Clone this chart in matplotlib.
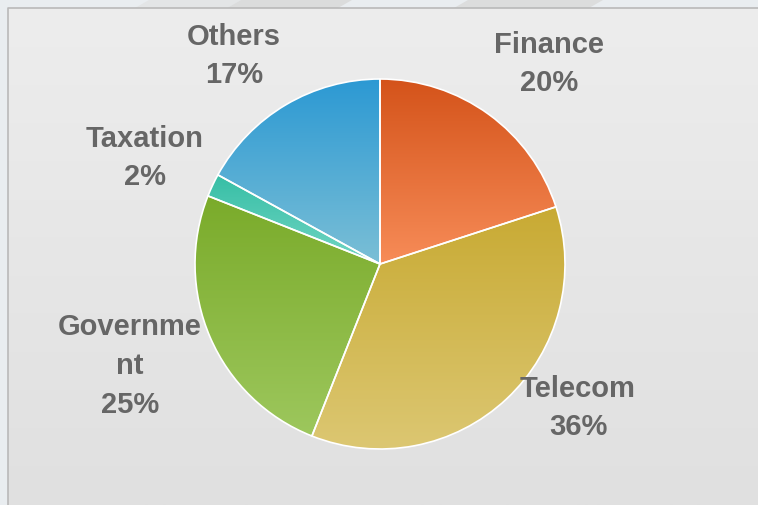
# pie chart of share by sector, gradient slices on a grey panel
import numpy as np
import matplotlib
matplotlib.use('Agg')
from matplotlib import pyplot as plt
from matplotlib.colors import LinearSegmentedColormap
from matplotlib.patches import Polygon

# data
sectors = ['Finance', 'Telecom', 'Government', 'Taxation', 'Others']
shares = [20, 36, 25, 2, 17]
label_text = ['Finance\n20%', 'Telecom\n36%', 'Governme\nnt\n25%', 'Taxation\n2%', 'Others\n17%']
top_colors = ['#d4531a', '#c8aa33', '#7aab2a', '#36bea5', '#2c99d3']
bottom_colors = ['#f78c58', '#dcc772', '#9dc75d', '#72d6c4', '#7bbfd6']

W, H = 758, 505
plt.rcParams['font.family'] = ['Liberation Sans', 'DejaVu Sans']

fig = plt.figure(figsize=(W / 100, H / 100), dpi=100)
fig.patch.set_facecolor('#e9edf0')
ax = fig.add_axes([0, 0, 1, 1])

# background streaks along the top edge
for x0, w, col in [(135, 92, '#e3e5e6'), (227, 111, '#dbdcdc'), (454, 135, '#dcdddd')]:
    ax.add_patch(Polygon([(x0, H - 8), (x0 + w, H - 8), (x0 + w + 14, H), (x0 + 14, H)],
                         closed=True, facecolor=col, edgecolor='none', zorder=-3))

# grey panel with vertical gradient
panel_cmap = LinearSegmentedColormap.from_list('panel', ['#ededed', '#e0e0e0'])
ax.imshow(np.linspace(0, 1, 256).reshape(-1, 1), cmap=panel_cmap, aspect='auto',
          extent=(7.5, W, 0, H - 8), origin='upper', zorder=-2)
ax.plot([7.5, 7.5, W], [0, H - 8, H - 8], color='#b9b9b9', lw=1.2, zorder=-1)

# pie
cx, cy, r = 380, H - 264, 185
wedges, _ = ax.pie(shares, startangle=90, counterclock=False, radius=r, center=(cx, cy),
                   wedgeprops=dict(facecolor='none', edgecolor='white', linewidth=1.2))
for w, c0, c1 in zip(wedges, top_colors, bottom_colors):
    w.set_zorder(2)
    ext = w.get_path().get_extents()
    cmap = LinearSegmentedColormap.from_list('g', [c0, c1])
    im = ax.imshow(np.linspace(0, 1, 256).reshape(-1, 1), cmap=cmap, aspect='auto',
                   extent=(ext.x0, ext.x1, ext.y0, ext.y1), origin='upper', zorder=1)
    im.set_clip_path(w)

# labels
label_pos = [(549, 64), (578, 408), (130, 366), (145, 158), (234, 56)]
for txt, (lx, ly) in zip(label_text, label_pos):
    ax.text(lx, H - ly, txt, ha='center', va='center', multialignment='center',
            fontsize=21, fontweight='bold', color='#666666', linespacing=1.48, zorder=3)

ax.set_xlim(0, W)
ax.set_ylim(0, H)
ax.axis('off')

plt.savefig('out.png', dpi=100, facecolor=fig.get_facecolor())
